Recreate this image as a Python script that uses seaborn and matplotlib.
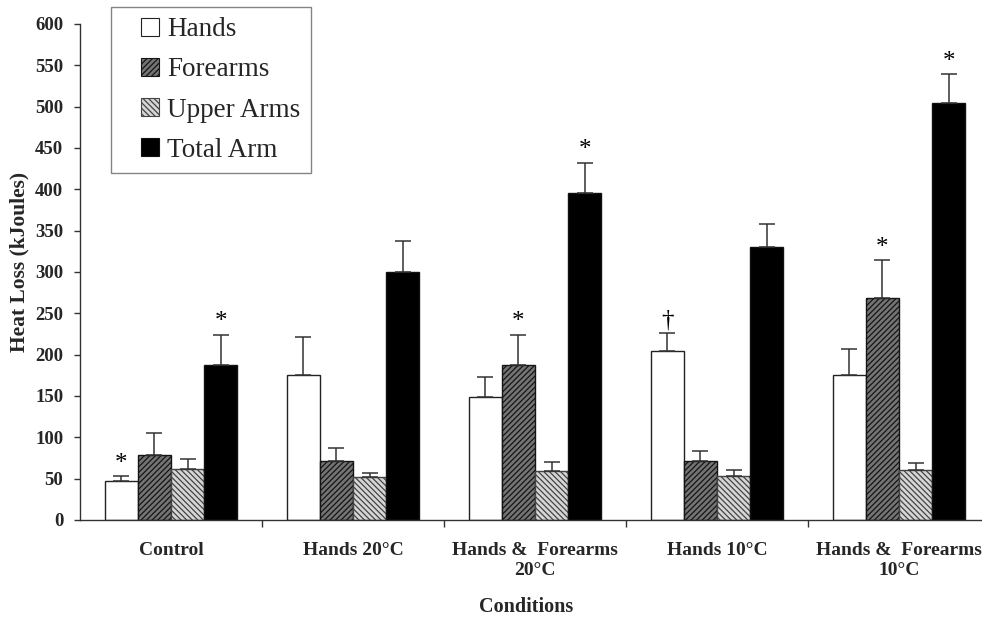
import matplotlib
matplotlib.use("Agg")
import matplotlib.pyplot as plt
from matplotlib.patches import Rectangle, Patch
from matplotlib.legend_handler import HandlerPatch
import seaborn as sns
import pandas as pd

# values
conditions = ["Control", "Hands 20°C", "Hands &  Forearms\n20°C",
              "Hands 10°C", "Hands &  Forearms\n10°C"]
series = ["Hands", "Forearms", "Upper Arms", "Total Arm"]

hands = [47, 176, 149, 205, 176]
hands_err = [6, 45, 24, 21, 31]
forearms = [79, 71, 188, 71, 268]
forearms_err = [26, 16, 36, 13, 46]
upper_arms = [62, 52, 59, 53, 60]
upper_arms_err = [12, 5, 11, 7, 9]
total_arm = [188, 300, 396, 330, 505]
total_arm_err = [36, 37, 36, 28, 34]

# significance marks: (condition index, series, symbol)
marks = [(0, "Hands", "*"), (0, "Total Arm", "*"),
         (2, "Forearms", "*"), (2, "Total Arm", "*"),
         (3, "Hands", "\u2020"),
         (4, "Forearms", "*"), (4, "Total Arm", "*")]

values = {"Hands": hands, "Forearms": forearms,
          "Upper Arms": upper_arms, "Total Arm": total_arm}
errors = {"Hands": hands_err, "Forearms": forearms_err,
          "Upper Arms": upper_arms_err, "Total Arm": total_arm_err}

rows = []
for s in series:
    for c, v in zip(conditions, values[s]):
        rows.append({"Condition": c, "Region": s, "Heat": v})
df = pd.DataFrame(rows)

sns.set_style("ticks")
plt.rcParams["font.family"] = ["Liberation Serif", "DejaVu Serif"]
plt.rcParams["hatch.linewidth"] = 0.9

# fill, edge/hatch colour, hatch per series
styles = {
    "Hands": ("white", "#222222", ""),
    "Forearms": ("#747474", "#151515", "//////"),
    "Upper Arms": ("#d6d6d6", "#444444", "\\\\\\\\\\\\"),
    "Total Arm": ("black", "#111111", ""),
}

fig = plt.figure(figsize=(9.82, 6.22), dpi=100)
ax = fig.add_axes([80 / 982, 102 / 622, 910 / 982, 496 / 622])

sns.barplot(data=df, x="Condition", y="Heat", hue="Region",
            order=conditions, hue_order=series,
            palette=[styles[s][0] for s in series],
            width=0.73, errorbar=None, legend=False, ax=ax)

bar_pos = {}
for s, cont in zip(series, ax.containers):
    fc, ec, hatch = styles[s]
    xs, ys = [], []
    for j, bar in enumerate(cont.patches):
        bar.set_facecolor(fc)
        bar.set_edgecolor(ec)
        bar.set_hatch(hatch)
        bar.set_linewidth(1.0)
        x = bar.get_x() + bar.get_width() / 2
        xs.append(x)
        ys.append(bar.get_height())
        bar_pos[(j, s)] = x
    ax.errorbar(xs, ys, yerr=[[0] * len(ys), errors[s]], fmt="none",
                ecolor="#333333", elinewidth=1.1, capsize=6, capthick=1.1,
                zorder=1)

for j, s, sym in marks:
    top = values[s][j] + errors[s][j]
    ax.text(bar_pos[(j, s)], top + 2, sym, ha="center", va="bottom",
            fontsize=18, color="black")

ax.set_ylim(0, 600)
ax.set_xlim(-0.5, 4.5)
ax.set_yticks(range(0, 601, 50))
ax.set_xticks(range(len(conditions)))
ax.set_xticklabels(conditions, fontsize=14, fontweight="bold")
ax.set_xticks([0.5, 1.5, 2.5, 3.5], minor=True)
ax.tick_params(axis="x", which="major", length=0, pad=16)
ax.tick_params(axis="x", which="minor", length=5, width=1, color="#333333",
               direction="out")
ax.tick_params(axis="y", length=4, width=1, color="#333333", pad=8,
               labelsize=13.5)
for lab in ax.get_yticklabels():
    lab.set_fontweight("bold")

sns.despine(ax=ax)
for sp in ("left", "bottom"):
    ax.spines[sp].set_color("#333333")
    ax.spines[sp].set_linewidth(1.0)

ax.set_ylabel("Heat Loss (kJoules)", fontsize=15.5, fontweight="bold")
ax.set_xlabel("Conditions", fontsize=14.5, fontweight="bold")
ax.yaxis.set_label_coords(-0.056, 0.52)
ax.xaxis.set_label_coords(0.49, -0.155)


def square_handle(legend, orig_handle, xdescent, ydescent, width, height, fontsize):
    return Rectangle((-xdescent + width - height, -ydescent), height, height)


handles = [Patch(facecolor=styles[s][0], edgecolor=styles[s][1],
                 hatch=styles[s][2], linewidth=0.8) for s in series]
leg = ax.legend(handles, series, loc="upper left",
                bbox_to_anchor=(111 / 982, 1 - 7 / 622),
                bbox_transform=fig.transFigure, borderaxespad=0,
                fontsize=19.5, frameon=True, fancybox=False,
                handlelength=1.4, handleheight=0.65, handletextpad=0.3,
                labelspacing=0.56, borderpad=0.38,
                handler_map={Patch: HandlerPatch(patch_func=square_handle)})
leg.get_frame().set_edgecolor("#666666")
leg.get_frame().set_linewidth(1.0)

fig.savefig("out.png", dpi=100)
